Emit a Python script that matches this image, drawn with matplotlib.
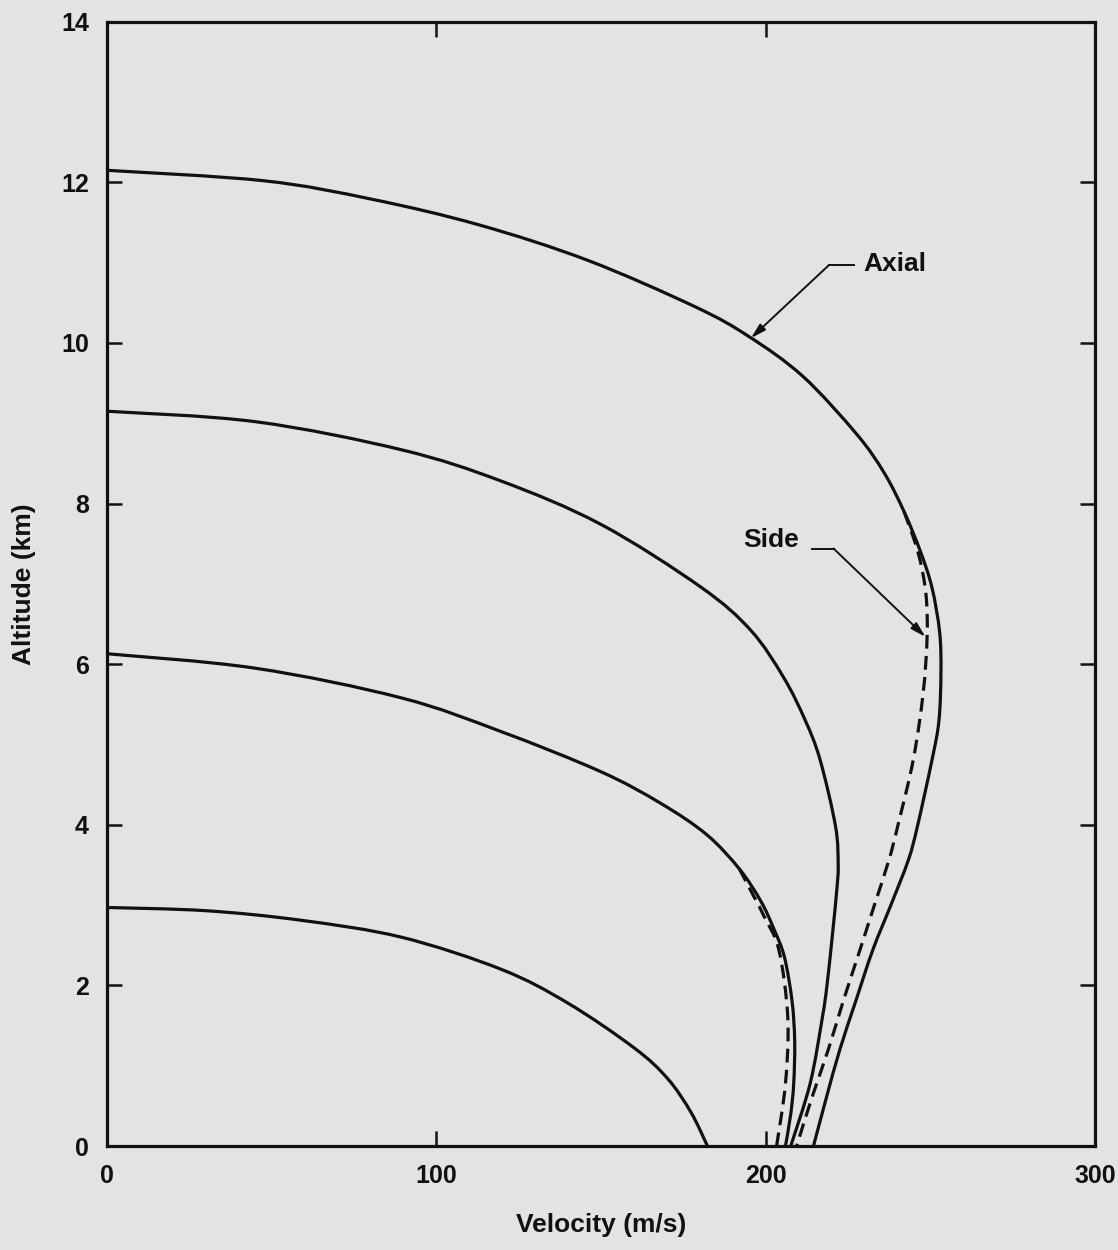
import matplotlib
matplotlib.use("Agg")
import matplotlib.pyplot as plt
from matplotlib.path import Path
from matplotlib.patches import PathPatch

# velocity (m/s) vs altitude (km)
# drop from ~12 km
axial_12_v = [0, 47.6, 80.4, 113, 145.9, 178.6, 194.9, 211.4, 227.7, 236, 242, 247, 250.5, 252.8, 253.2, 252.6,
              250.5, 246, 243.3, 238, 232.5, 227.3, 222.5, 218.4, 214.5]
axial_12_h = [12.15, 12.02, 11.79, 11.47, 11.03, 10.45, 10.08, 9.58, 8.86, 8.38, 7.9, 7.4, 6.95, 6.4, 5.9, 5.3,
              4.81, 3.97, 3.56, 3.0, 2.44, 1.8, 1.2, 0.6, 0]
side_12_v = [242, 246.2, 248.6, 249, 247.8, 244.8, 240, 237.4, 233, 228.6, 223.5, 219, 214, 209.4]
side_12_h = [7.9, 7.4, 6.89, 6.34, 5.64, 4.81, 3.97, 3.56, 3.0, 2.44, 1.8, 1.2, 0.6, 0]

# drop from ~9 km (axial and side coincide)
axial_9_v = [0, 45, 89.4, 119.7, 150, 180.3, 195.5, 205.5, 212, 216.5, 221.2, 222, 221.6, 220.3, 218.6, 217.2,
             213.5, 207.6]
axial_9_h = [9.15, 9.02, 8.67, 8.28, 7.74, 6.96, 6.42, 5.83, 5.3, 4.81, 3.98, 3.5, 3.2, 2.65, 2.0, 1.6, 0.78, 0]

# drop from ~6 km
axial_6_v = [0, 45, 89.4, 119.7, 150, 168, 182, 192, 198.5, 202.5, 205.7, 208, 208.8, 208.5, 207.6, 206]
axial_6_h = [6.13, 5.95, 5.58, 5.16, 4.66, 4.27, 3.88, 3.45, 3.05, 2.7, 2.35, 1.8, 1.3, 0.78, 0.4, 0]
side_6_v = [192, 196.5, 199.5, 204, 206.7, 206, 203.3]
side_6_h = [3.45, 3.1, 2.86, 2.44, 1.6, 0.78, 0]

# drop from ~3 km
axial_3_v = [0, 30, 59.1, 89.4, 119.7, 139.9, 160.1, 170.2, 177.3, 182.3]
axial_3_h = [2.97, 2.93, 2.81, 2.6, 2.2, 1.78, 1.22, 0.84, 0.42, 0]

x_ticks = [0, 100, 200, 300]
y_ticks = [0, 2, 4, 6, 8, 10, 12, 14]

bg = "#e3e3e1"
ink = "#111111"
plt.rcParams["font.family"] = ["Liberation Sans", "DejaVu Sans"]
plt.rcParams["font.weight"] = "bold"


def smooth_curve(ax, xs, ys, **kw):
    # draw a smooth line through the read points (Catmull-Rom as cubic Bezier)
    pts = list(zip(xs, ys))
    verts = [pts[0]]
    codes = [Path.MOVETO]
    n = len(pts)
    for i in range(n - 1):
        p0 = pts[i - 1] if i > 0 else pts[i]
        p1 = pts[i]
        p2 = pts[i + 1]
        p3 = pts[i + 2] if i + 2 < n else pts[i + 1]
        c1 = (p1[0] + (p2[0] - p0[0]) / 6, p1[1] + (p2[1] - p0[1]) / 6)
        c2 = (p2[0] - (p3[0] - p1[0]) / 6, p2[1] - (p3[1] - p1[1]) / 6)
        verts += [c1, c2, p2]
        codes += [Path.CURVE4] * 3
    ax.add_patch(PathPatch(Path(verts, codes), fill=False, capstyle="butt", **kw))


fig = plt.figure(figsize=(11.18, 12.5), dpi=100, facecolor=bg)
ax = fig.add_axes([0.0957, 0.0832, 0.8838, 0.8994], facecolor=bg)

lw = 2.3
dash = (0, (4.3, 2.3))
smooth_curve(ax, axial_12_v, axial_12_h, edgecolor=ink, lw=lw)
smooth_curve(ax, side_12_v, side_12_h, edgecolor=ink, lw=lw, ls=dash)
smooth_curve(ax, axial_9_v, axial_9_h, edgecolor=ink, lw=lw)
smooth_curve(ax, axial_6_v, axial_6_h, edgecolor=ink, lw=lw)
smooth_curve(ax, side_6_v, side_6_h, edgecolor=ink, lw=lw, ls=dash)
smooth_curve(ax, axial_3_v, axial_3_h, edgecolor=ink, lw=lw)

# labels with leader lines
ax.text(229.7, 10.98, "Axial", fontsize=19, fontweight="bold", va="center", ha="left", color=ink)
ax.plot([226.7, 219.2], [10.97, 10.97], color=ink, lw=1.4)
ax.annotate("", xy=(195.5, 10.06), xytext=(219.2, 10.97),
            arrowprops=dict(arrowstyle="-|>,head_length=0.9,head_width=0.25", color=ink, lw=1.4,
                            shrinkA=0, shrinkB=0))

ax.text(193.3, 7.55, "Side", fontsize=19, fontweight="bold", va="center", ha="left", color=ink)
ax.plot([214.2, 220.6], [7.44, 7.44], color=ink, lw=1.4)
ax.annotate("", xy=(248.5, 6.34), xytext=(220.6, 7.44),
            arrowprops=dict(arrowstyle="-|>,head_length=0.9,head_width=0.25", color=ink, lw=1.4,
                            shrinkA=0, shrinkB=0))

ax.set_xlim(0, 300)
ax.set_ylim(0, 14)
ax.set_xticks(x_ticks)
ax.set_yticks(y_ticks)
ax.tick_params(direction="in", length=11, width=1.8, top=True, right=True, colors=ink,
               labelsize=18, pad=13)
for lab in ax.get_xticklabels() + ax.get_yticklabels():
    lab.set_fontweight("bold")
for s in ax.spines.values():
    s.set_linewidth(2.3)
    s.set_color(ink)

ax.set_xlabel("Velocity (m/s)", fontsize=19, fontweight="bold", labelpad=18, color=ink)
ax.set_ylabel("Altitude (km)", fontsize=19, fontweight="bold", labelpad=18, color=ink)

plt.savefig("out.png", dpi=100, facecolor=bg)
